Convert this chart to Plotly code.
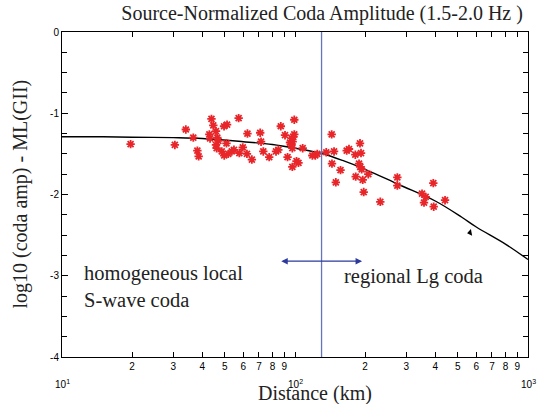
import numpy as np
import plotly.graph_objects as go

# observed coda amplitudes: distance (km), log10 amp - ML
dist_km = [19.7, 30.5, 34.0, 36.6, 38.1, 38.6, 43.8, 44.6, 42.9, 43.2,
           45.8, 46.4, 46.9, 45.8, 46.1, 49.6, 51.1, 50.8, 48.5, 49.7,
           51.7, 53.5, 54.7, 57.3, 57.7, 59.7, 62.2, 65.3, 62.5, 70.9,
           71.5, 73.1, 77.5, 82.9, 84.8, 86.9, 90.6, 92.9, 99.3, 99.3,
           96.8, 97.7, 95.2, 98.3, 96.1, 97.4, 101.5, 103.5, 97.4, 107.9,
           118.7, 122.2, 124.6, 136.2, 143.7, 147.1, 144.1, 156.8, 149.7, 166.7,
           170.5, 181.5, 190.1, 192.0, 188.3, 190.5, 193.3, 182.2, 195.3, 206.3,
           197.2, 232.3, 274.9, 274.9, 350.9, 363.9, 357.8, 392.3, 393.8, 440.5]
coda_amp = [-1.38, -1.39, -1.20, -1.30, -1.46, -1.53, -1.07, -1.15, -1.26, -1.31,
            -1.22, -1.30, -1.34, -1.39, -1.43, -1.16, -1.14, -1.37, -1.47, -1.52,
            -1.50, -1.47, -1.45, -1.06, -1.49, -1.42, -1.50, -1.57, -1.25, -1.24,
            -1.35, -1.47, -1.54, -1.47, -1.45, -1.16, -1.27, -1.54, -1.08, -1.26,
            -1.31, -1.35, -1.36, -1.29, -1.39, -1.43, -1.59, -1.61, -1.66, -1.43,
            -1.52, -1.52, -1.50, -1.48, -1.26, -1.47, -1.62, -1.70, -1.85, -1.46,
            -1.44, -1.51, -1.37, -1.49, -1.62, -1.66, -1.69, -1.78, -1.82, -1.75,
            -1.97, -2.09, -1.79, -1.89, -1.99, -2.03, -2.10, -1.86, -2.15, -2.07]

# model curve
model_km = [10, 15, 20, 30, 40, 60, 80, 100, 130, 160, 200, 280, 400, 520, 600, 800, 1000]
model_amp = [-1.29, -1.29, -1.295, -1.30, -1.31, -1.35, -1.385, -1.43, -1.495, -1.58,
             -1.69, -1.88, -2.08, -2.28, -2.40, -2.61, -2.80]

boundary_km = 130
arrow_km = [86, 194]
arrow_amp = -2.82
marker_km = [564]
marker_amp = [-2.47]

x_ticks = [10, 20, 30, 40, 50, 60, 70, 80, 90, 100,
           200, 300, 400, 500, 600, 700, 800, 900, 1000]
x_ticktext = ["", "2", "3", "4", "5", "6", "7", "8", "9", "",
              "2", "3", "4", "5", "6", "7", "8", "9", ""]
decade_vals = [10, 100, 1000]
decade_text = ["10<sup>1</sup>", "10<sup>2</sup>", "10<sup>3</sup>"]
y_ticks = [0, -1, -2, -3, -4]
y_ticktext = ["0", "-1", "-2", "-3", "-4"]

SERIF = "Liberation Serif"
SANS = "Liberation Sans"
TXT = "#222"

fig = go.Figure()
fig.add_trace(go.Scatter(
    x=model_km, y=model_amp, mode="lines", line_shape="spline",
    line=dict(color="black", width=1.4), hoverinfo="skip",
))
fig.add_trace(go.Scatter(
    x=dist_km, y=coda_amp, mode="markers",
    marker=dict(symbol="asterisk-open", size=7, color="#e8262a",
                line=dict(color="#e8262a", width=1.8)),
))
fig.add_trace(go.Scatter(
    x=[boundary_km, boundary_km], y=[0, -4], mode="lines",
    line=dict(color="#6674bd", width=1.3), hoverinfo="skip",
))
fig.add_trace(go.Scatter(
    x=marker_km, y=marker_amp, mode="markers",
    marker=dict(symbol="triangle-left", size=6, color="black", angle=-10),
))

annotations = []
annotations.append(dict(
    x=np.log10(arrow_km[1]), y=arrow_amp, ax=np.log10(arrow_km[0]), ay=arrow_amp,
    xref="x", yref="y", axref="x", ayref="y", text="", showarrow=True,
    arrowhead=2, arrowside="end+start", arrowsize=1, arrowwidth=1.3,
    arrowcolor="#2b3a9c",
))
for v, t in zip(decade_vals, decade_text):
    annotations.append(dict(
        x=np.log10(v), y=-0.082, xref="x", yref="paper", text=t, showarrow=False,
        font=dict(family=SANS, size=10, color="black"), xanchor="center", yanchor="middle",
    ))
annotations += [
    dict(x=0.043, y=0.217, xref="paper", yref="paper", showarrow=False,
         text="homogeneous local<br>S-wave coda", align="left",
         xanchor="left", yanchor="middle", font=dict(family=SERIF, size=20.5, color=TXT)),
    dict(x=0.601, y=0.247, xref="paper", yref="paper", showarrow=False,
         text="regional Lg coda", xanchor="left", yanchor="middle",
         font=dict(family=SERIF, size=20.5, color=TXT)),
    dict(x=0.543, y=-0.112, xref="paper", yref="paper", showarrow=False,
         text="Distance (km)", xanchor="center", yanchor="middle",
         font=dict(family=SERIF, size=20, color=TXT)),
    dict(x=-0.090, y=0.5, xref="paper", yref="paper", showarrow=False,
         text="log10 (coda amp) - ML(GII)", textangle=-90,
         xanchor="center", yanchor="middle", font=dict(family=SERIF, size=20, color=TXT)),
]

fig.update_layout(
    width=545, height=404,
    margin=dict(l=62, r=17, t=32, b=47),
    paper_bgcolor="white", plot_bgcolor="white",
    showlegend=False,
    title=dict(text="Source-Normalized Coda Amplitude (1.5-2.0 Hz )",
               x=0.591, xanchor="center", y=0.968, yanchor="middle",
               font=dict(family=SERIF, size=20, color=TXT)),
    annotations=annotations,
)
fig.update_xaxes(
    type="log", range=[1, 3], tickvals=x_ticks, ticktext=x_ticktext,
    ticks="inside", ticklen=5, tickcolor="black", showgrid=False, zeroline=False,
    showline=True, linecolor="black", linewidth=1, mirror="ticks",
    tickfont=dict(family=SANS, size=10, color="black"),
)
fig.update_yaxes(
    range=[-4, 0], tickvals=y_ticks, ticktext=y_ticktext,
    ticks="inside", ticklen=6, tickcolor="black", showgrid=False, zeroline=False,
    showline=True, linecolor="black", linewidth=1, mirror="ticks",
    minor=dict(dtick=0.25, ticks="inside", ticklen=5, tickcolor="black"),
    tickfont=dict(family=SANS, size=10, color="black"),
)

# drop the page's default body margin so the figure fills the window
fig.write_html("out.html", config={"displayModeBar": False},
               post_script="document.body.style.margin = '0px';")
